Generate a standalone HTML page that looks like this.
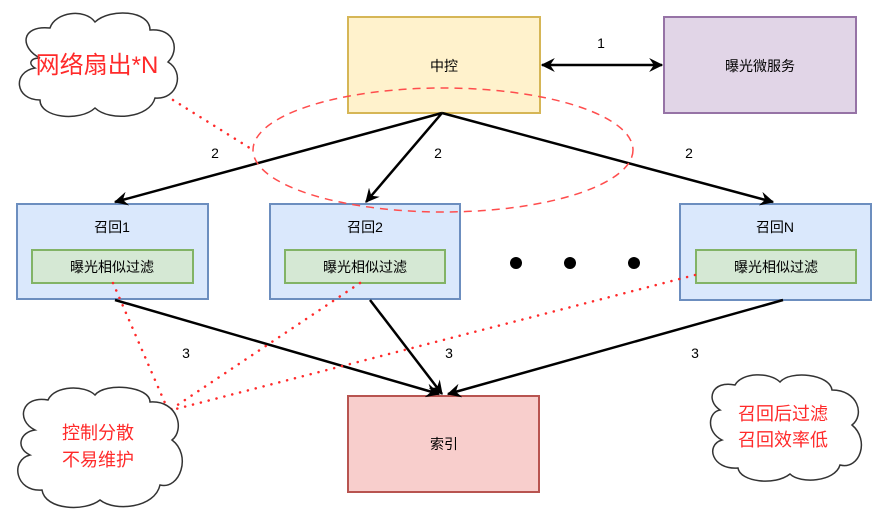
<!DOCTYPE html>
<html><head><meta charset="utf-8"><style>
html,body{margin:0;padding:0;background:#fff;}
svg text{font-family:"Liberation Sans","Noto Sans CJK SC",sans-serif;}
</style></head><body>
<svg width="883" height="520" viewBox="0 0 883 520" xmlns="http://www.w3.org/2000/svg">
<defs>
<marker id="a" viewBox="0 0 12 12" refX="11" refY="6" markerWidth="14" markerHeight="14" orient="auto-start-reverse" markerUnits="userSpaceOnUse"><path d="M0,0 L12,6 L0,12 L4,6 Z" fill="#000"/></marker>
</defs>
<rect x="348" y="17" width="192" height="96" fill="#fff2cc" stroke="#d6b656" stroke-width="2"/>
<text x="444" y="71" font-size="14" text-anchor="middle">中控</text>
<rect x="664" y="17" width="192" height="96" fill="#e1d5e7" stroke="#9673a6" stroke-width="2"/>
<text x="760" y="71" font-size="14" text-anchor="middle">曝光微服务</text>

<rect x="17" y="204" width="191" height="95" fill="#dae8fc" stroke="#6c8ebf" stroke-width="2"/>
<text x="112" y="232" font-size="14" text-anchor="middle">召回1</text>
<rect x="32" y="250" width="161" height="33" fill="#d5e8d4" stroke="#82b366" stroke-width="2"/>
<text x="112" y="272" font-size="14" text-anchor="middle">曝光相似过滤</text>

<rect x="270" y="204" width="190" height="95" fill="#dae8fc" stroke="#6c8ebf" stroke-width="2"/>
<text x="365" y="232" font-size="14" text-anchor="middle">召回2</text>
<rect x="285" y="250" width="160" height="33" fill="#d5e8d4" stroke="#82b366" stroke-width="2"/>
<text x="365" y="272" font-size="14" text-anchor="middle">曝光相似过滤</text>

<rect x="680" y="204" width="191" height="96" fill="#dae8fc" stroke="#6c8ebf" stroke-width="2"/>
<text x="775" y="232" font-size="14" text-anchor="middle">召回N</text>
<rect x="696" y="250" width="160" height="33" fill="#d5e8d4" stroke="#82b366" stroke-width="2"/>
<text x="776" y="272" font-size="14" text-anchor="middle">曝光相似过滤</text>

<rect x="348" y="396" width="191" height="96" fill="#f8cecc" stroke="#b85450" stroke-width="2"/>
<text x="444" y="449" font-size="14" text-anchor="middle">索引</text>

<circle cx="516" cy="263" r="6" fill="#000"/>
<circle cx="570" cy="263" r="6" fill="#000"/>
<circle cx="634" cy="263" r="6" fill="#000"/>

<line x1="542" y1="65" x2="662" y2="65" stroke="#000" stroke-width="2.5" marker-start="url(#a)" marker-end="url(#a)"/>
<text x="601" y="48" font-size="14" text-anchor="middle">1</text>
<line x1="442" y1="113" x2="115" y2="202" stroke="#000" stroke-width="2.5" marker-end="url(#a)"/>
<line x1="442" y1="113" x2="366" y2="202" stroke="#000" stroke-width="2.5" marker-end="url(#a)"/>
<line x1="442" y1="113" x2="773" y2="202" stroke="#000" stroke-width="2.5" marker-end="url(#a)"/>
<text x="215" y="158" font-size="14" text-anchor="middle">2</text>
<text x="438" y="158" font-size="14" text-anchor="middle">2</text>
<text x="689" y="158" font-size="14" text-anchor="middle">2</text>

<line x1="115" y1="300" x2="439" y2="394" stroke="#000" stroke-width="2.5" marker-end="url(#a)"/>
<line x1="370" y1="300" x2="442" y2="394" stroke="#000" stroke-width="2.5" marker-end="url(#a)"/>
<line x1="783" y1="300" x2="448" y2="394" stroke="#000" stroke-width="2.5" marker-end="url(#a)"/>
<text x="186" y="358" font-size="14" text-anchor="middle">3</text>
<text x="449" y="358" font-size="14" text-anchor="middle">3</text>
<text x="695" y="358" font-size="14" text-anchor="middle">3</text>

<ellipse cx="443" cy="150" rx="190" ry="62" fill="none" stroke="#ff4d4d" stroke-width="1.5" stroke-dasharray="8,6"/>

<g stroke="#ff2a2a" stroke-width="2.5" stroke-dasharray="0.1,8" stroke-linecap="round" fill="none">
<line x1="173" y1="100" x2="253" y2="150"/>
<line x1="113" y1="283" x2="168" y2="410"/>
<line x1="360" y1="283" x2="170" y2="410"/>
<line x1="695" y1="275" x2="172" y2="410"/>
</g>

<g fill="#fff" stroke="#333" stroke-width="1.5">
<path d="M40,58 C20,48 20,25 50,28 C55,12 85,8 95,22 C110,8 150,10 150,30 C175,28 180,50 168,62 C185,72 178,100 155,98 C150,118 110,122 95,108 C80,122 40,118 40,100 C15,100 12,72 35,68 C28,64 30,58 40,58 Z"/>
<path d="M35,430 C15,420 22,395 48,400 C55,385 85,385 95,395 C105,382 150,386 150,402 C178,400 185,430 172,440 C192,455 180,490 160,485 C155,508 115,512 100,500 C85,512 45,510 42,490 C15,492 10,460 30,455 C15,448 20,432 35,430 Z"/>
<path d="M720,410 C705,400 712,380 735,385 C742,372 770,372 780,382 C790,370 830,374 832,390 C858,390 865,415 852,425 C870,440 860,470 840,465 C835,482 800,484 790,474 C775,486 740,482 738,468 C712,470 705,445 722,440 C706,432 708,412 720,410 Z"/>
</g>
<text x="97" y="73" font-size="24" fill="#ff2a2a" text-anchor="middle">网络扇出*N</text>
<text x="98" y="439" font-size="18" fill="#ff2a2a" text-anchor="middle">控制分散</text>
<text x="98" y="466" font-size="18" fill="#ff2a2a" text-anchor="middle">不易维护</text>
<text x="783" y="420" font-size="18" fill="#ff2a2a" text-anchor="middle">召回后过滤</text>
<text x="783" y="446" font-size="18" fill="#ff2a2a" text-anchor="middle">召回效率低</text>
</svg>
</body></html>
